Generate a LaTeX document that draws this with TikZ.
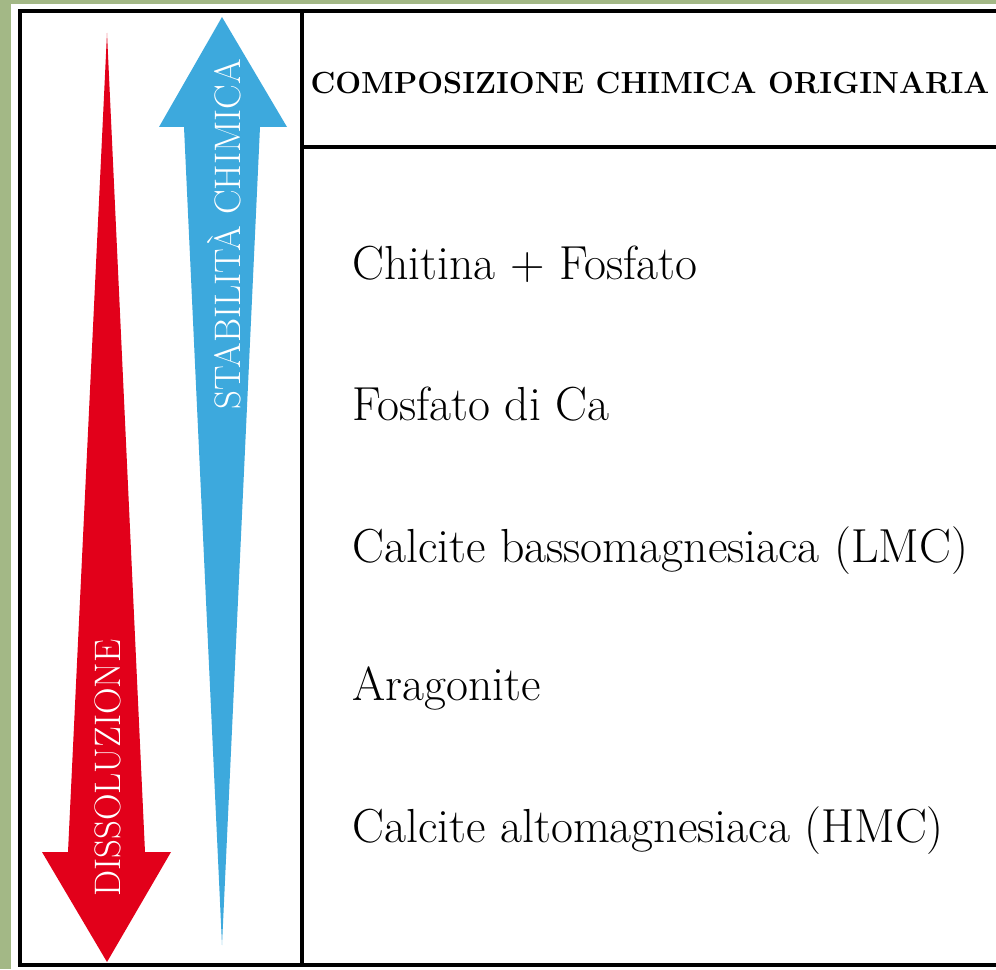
\documentclass[tikz,border=0pt]{standalone}
\usepackage{tikz}
\usetikzlibrary{positioning}
\definecolor{framegreen}{HTML}{A3B886}
\definecolor{dissred}{HTML}{E2001A}
\definecolor{stabblue}{HTML}{3DA9DD}

\tikzset{
  item/.style={anchor=base west, inner sep=0pt, font=\fontsize{27.2}{32}\selectfont},
  arrowlabel/.style={rotate=90, text=white, inner sep=0pt, font=\fontsize{21}{24}\selectfont}
}

\begin{document}
\begin{tikzpicture}[x=0.02cm,y=-0.02cm]
\useasboundingbox (0,0) rectangle (996,969);
\fill[framegreen] (0,0) rectangle (996,969);
\fill[white] (11,4) rectangle (996,969);
% table frame
\draw[black, line width=1.8pt] (996,11) -- (20,11) -- (20,965) -- (996,965);
\draw[black, line width=1.8pt] (302,11) -- (302,965);
\draw[black, line width=1.8pt] (302,147) -- (996,147);
% arrows
\fill[dissred] (107,33) -- (145,852) -- (171,852) -- (107,962) -- (42,852) -- (68,852) -- cycle;
\fill[stabblue] (222,17) -- (287,127) -- (260,127) -- (222,945) -- (184,127) -- (159,127) -- cycle;
\node[arrowlabel] (diss) at (108,768) {DISSOLUZIONE};
\node[arrowlabel] (stab) at (224,234) {STABILIT\`A CHIMICA};
% column
\node[anchor=base, inner sep=0pt, font=\fontsize{17.4}{21}\selectfont\bfseries] (head) at (650,94) {COMPOSIZIONE CHIMICA ORIGINARIA};
\node[item] (chit) at (352,279) {Chitina + Fosfato};
\node[item] (fosf) at (352,420) {Fosfato di Ca};
\node[item] (lmc) at (352,562) {Calcite bassomagnesiaca (LMC)};
\node[item] (arag) at (352,700) {Aragonite};
\node[item] (hmc) at (352,842) {Calcite altomagnesiaca (HMC)};
\end{tikzpicture}
\end{document}
